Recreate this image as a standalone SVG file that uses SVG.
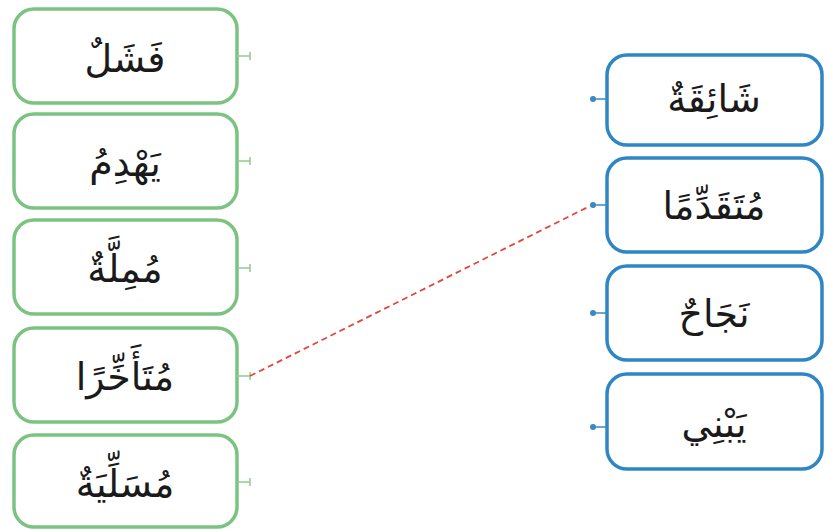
<svg xmlns="http://www.w3.org/2000/svg" width="827" height="530" viewBox="0 0 827 530">
<style>
.gbox{fill:#ffffff;stroke:#7cc382;stroke-width:3.5}
.bbox{fill:#ffffff;stroke:#2f86c4;stroke-width:3.5}
.gstub{stroke:#8fcb92;stroke-width:1.5;fill:none}
.bstub{stroke:#3a88c4;stroke-width:1.5;fill:none}
.dot{fill:#3a88c4}
.t{font-family:"DejaVu Sans","Noto Sans",sans-serif;font-size:38px;fill:#1a1a1a;text-anchor:middle;direction:rtl}
.conn{stroke:#e0463c;stroke-width:1.8;stroke-dasharray:6,4;fill:none}
</style>
<rect width="827" height="530" fill="#ffffff"/>
<g id="L1"><rect class="gbox" x="14" y="9" width="223" height="94" rx="20"/><path class="gstub" d="M237 56H250M250 52V60"/><text class="t" x="125" y="72">فَشَلٌ</text></g>
<g id="L2"><rect class="gbox" x="14" y="114" width="223" height="94" rx="20"/><path class="gstub" d="M237 161H250M250 157V165"/><text class="t" x="125" y="176">يَهْدِمُ</text></g>
<g id="L3"><rect class="gbox" x="14" y="220" width="223" height="94" rx="20"/><path class="gstub" d="M237 268H250M250 264V272"/><text class="t" x="125" y="282">مُمِلَّةٌ</text></g>
<g id="L4"><rect class="gbox" x="14" y="328" width="223" height="94" rx="20"/><path class="gstub" d="M237 376H250M250 372V380"/><text class="t" x="125" y="390">مُتَأَخِّرًا</text></g>
<g id="L5"><rect class="gbox" x="14" y="435" width="223" height="92" rx="20"/><path class="gstub" d="M237 482H250M250 478V486"/><text class="t" x="125" y="497">مُسَلِّيَةٌ</text></g>
<g id="R1"><rect class="bbox" x="607" y="55" width="215" height="90" rx="20"/><path class="bstub" d="M593 99H607"/><circle class="dot" cx="593" cy="99" r="3"/><text class="t" x="714" y="112">شَائِقَةٌ</text></g>
<g id="R2"><rect class="bbox" x="607" y="158" width="215" height="94" rx="20"/><path class="bstub" d="M593 205H607"/><circle class="dot" cx="593" cy="205" r="3"/><text class="t" x="714" y="219">مُتَقَدِّمًا</text></g>
<g id="R3"><rect class="bbox" x="607" y="266" width="215" height="94" rx="20"/><path class="bstub" d="M593 313H607"/><circle class="dot" cx="593" cy="313" r="3"/><text class="t" x="714" y="327">نَجَاحٌ</text></g>
<g id="R4"><rect class="bbox" x="607" y="374" width="215" height="95" rx="20"/><path class="bstub" d="M593 427H607"/><circle class="dot" cx="593" cy="427" r="3"/><text class="t" x="714" y="437">يَبْنِي</text></g>
<g id="connectors"><path class="conn" d="M250 376L590 206"/></g>
</svg>
